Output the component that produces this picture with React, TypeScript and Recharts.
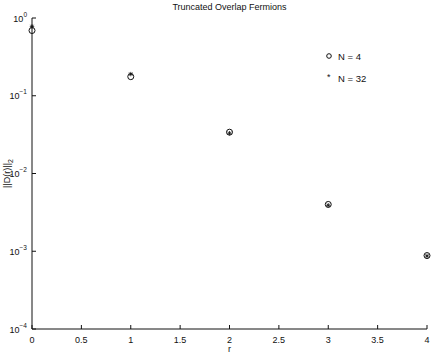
import { ScatterChart, Scatter, XAxis, YAxis, Legend } from 'recharts';

// r values and norms
const rValues = [0, 1, 2, 3, 4];
const normN4 = [0.69, 0.176, 0.034, 0.004, 0.00088];
const normN32 = [0.78, 0.19, 0.033, 0.0039, 0.00087];

const xTicks = [0, 0.5, 1, 1.5, 2, 2.5, 3, 3.5, 4];
const yTicks = [1e-4, 1e-3, 1e-2, 1e-1, 1];

const FONT = '"Liberation Sans", Arial, Helvetica, sans-serif';
const INK = '#111';

const n4Data = rValues.map((r, i) => ({ r, norm: normN4[i] }));
const n32Data = rValues.map((r, i) => ({ r, norm: normN32[i] }));

// open circle marker ('o')
const CircleMark = (props: any) => (
  <circle cx={props.cx} cy={props.cy} r={props.radius ?? 3} fill="none" stroke={INK} strokeWidth={1} />
);

// asterisk marker ('*')
const StarMark = (props: any) => {
  const { cx, cy } = props;
  const s = 2.2;
  const d = 1.6;
  return (
    <g stroke={INK} strokeWidth={0.8}>
      <line x1={cx - s} x2={cx + s} y1={cy} y2={cy} />
      <line x1={cx} x2={cx} y1={cy - s} y2={cy + s} />
      <line x1={cx - d} x2={cx + d} y1={cy - d} y2={cy + d} />
      <line x1={cx - d} x2={cx + d} y1={cy + d} y2={cy - d} />
    </g>
  );
};

const BottomTick = (props: any) => {
  const { x, y, payload } = props;
  return (
    <g>
      <line x1={x} x2={x} y1={y - 7} y2={y - 11} stroke={INK} />
      <text x={x} y={y} dy={6.5} textAnchor="middle" fontSize={9} fontFamily={FONT} fill={INK}>
        {payload.value}
      </text>
    </g>
  );
};

const TopTick = (props: any) => {
  const { x, y } = props;
  return <line x1={x} x2={x} y1={y} y2={y + 4} stroke={INK} />;
};

const LeftTick = (props: any) => {
  const { x, y, payload } = props;
  const exp = Math.round(Math.log10(payload.value));
  const expText = exp < 0 ? `\u2212${-exp}` : `${exp}`;
  return (
    <g>
      <line x1={x + 5} x2={x + 9} y1={y} y2={y} stroke={INK} />
      <text x={x} y={y} dy={3.5} textAnchor="end" fontSize={9} fontFamily={FONT} fill={INK}>
        10
        <tspan dy={-5} fontSize={6.5}>
          {expText}
        </tspan>
      </text>
    </g>
  );
};

const RightTick = (props: any) => {
  const { x, y } = props;
  return <line x1={x} x2={x - 4} y1={y} y2={y} stroke={INK} />;
};

const XLabel = (props: any) => {
  const vb = props.viewBox;
  return (
    <text x={vb.x + vb.width / 2} y={vb.y + vb.height - 2} textAnchor="middle" fontSize={9} fontFamily={FONT} fill={INK}>
      r
    </text>
  );
};

const YLabel = (props: any) => {
  const vb = props.viewBox;
  const cx = vb.x + 10;
  const cy = vb.y + vb.height / 2;
  return (
    <text
      x={cx}
      y={cy}
      transform={`rotate(-90, ${cx}, ${cy})`}
      textAnchor="middle"
      fontSize={9}
      fontFamily={FONT}
      fill={INK}
    >
      ||D(r)||
      <tspan dy={3} fontSize={7}>
        2
      </tspan>
    </text>
  );
};

const LegendBox = () => (
  <svg width={70} height={40}>
    <CircleMark cx={9} cy={10} radius={2.3} />
    <text x={18} y={13.5} fontSize={9.5} fontFamily={FONT} fill={INK}>
      N = 4
    </text>
    <text x={7} y={34} fontSize={9} fontFamily={FONT} fill={INK}>
      *
    </text>
    <text x={18} y={36} fontSize={9.5} fontFamily={FONT} fill={INK}>
      N = 32
    </text>
  </svg>
);

export default function App() {
  return (
    <div style={{ position: 'absolute', left: 0, top: 0, width: 436, height: 354, background: '#fff' }}>
      <div
        style={{
          position: 'absolute',
          left: 32,
          width: 395,
          top: 2,
          textAlign: 'center',
          fontFamily: FONT,
          fontSize: 9,
          lineHeight: '11px',
          color: INK,
        }}
      >
        Truncated Overlap Fermions
      </div>
      <ScatterChart width={436} height={354} margin={{ top: 18, right: 9, bottom: 0, left: 0 }}>
        <XAxis
          dataKey="r"
          type="number"
          domain={[0, 4]}
          ticks={xTicks}
          height={25}
          tickSize={0}
          tickMargin={7}
          tick={<BottomTick />}
          axisLine={{ stroke: INK }}
          label={<XLabel />}
        />
        <XAxis
          xAxisId="top"
          dataKey="r"
          orientation="top"
          type="number"
          domain={[0, 4]}
          ticks={xTicks}
          height={0}
          tickSize={0}
          tickMargin={0}
          tick={<TopTick />}
          axisLine={{ stroke: INK }}
        />
        <YAxis
          dataKey="norm"
          type="number"
          scale="log"
          domain={[1e-4, 1]}
          allowDataOverflow
          ticks={yTicks}
          width={32}
          tickSize={0}
          tickMargin={5}
          tick={<LeftTick />}
          axisLine={{ stroke: INK }}
          label={<YLabel />}
        />
        <YAxis
          yAxisId="right"
          dataKey="norm"
          orientation="right"
          type="number"
          scale="log"
          domain={[1e-4, 1]}
          allowDataOverflow
          ticks={yTicks}
          width={0}
          tickSize={0}
          tickMargin={0}
          tick={<RightTick />}
          axisLine={{ stroke: INK }}
        />
        <Legend
          layout="vertical"
          align="center"
          verticalAlign="middle"
          content={<LegendBox />}
          wrapperStyle={{ position: 'absolute', left: 320, top: 46, width: 70, height: 40 }}
        />
        <Scatter name="N = 4" data={n4Data} shape={<CircleMark />} isAnimationActive={false} />
        <Scatter
          name="N = 32"
          data={n32Data}
          xAxisId="top"
          yAxisId="right"
          shape={<StarMark />}
          isAnimationActive={false}
        />
      </ScatterChart>
    </div>
  );
}
